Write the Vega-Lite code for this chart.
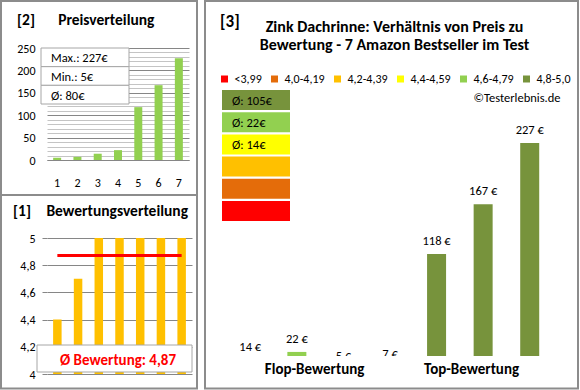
{
  "$schema": "https://vega.github.io/schema/vega-lite/v6.json",
  "padding": {"left": 0, "top": 0, "right": 0, "bottom": 0},
  "background": "white",
  "config": {
    "font": "Carlito, Lato, sans-serif",
    "view": {"stroke": null},
    "axis": {"labelColor": "#000000", "labelFontSize": 12, "titleColor": "#000000", "labelOverlap": false},
    "title": {"color": "#000000", "fontWeight": "bold"}
  },
  "columns": 2,
  "align": "none",
  "spacing": 6,
  "resolve": {"scale": {"color": "independent"}, "legend": {"color": "independent"}},
  "concat": [
    {
      "spacing": -2,
      "vconcat": [
        {
          "width": 142,
          "height": 112,
          "title": {"text": "[2]\u2003\u2002Preisverteilung", "anchor": "start", "frame": "bounds", "fontSize": 15.5, "offset": -28, "dx": 17},
          "layer": [
            {
              "data": {"values": [{"panel": "Preisverteilung"}]},
              "mark": {"type": "rect", "fillOpacity": 0, "stroke": "#8c8c8c", "strokeWidth": 2},
              "encoding": {
                "x": {"datum": "frame", "type": "nominal", "scale": {"range": [-46, 150], "paddingInner": 0, "paddingOuter": 0}, "axis": null},
                "y": {"datum": "frame", "type": "nominal", "scale": {"range": [-47, 147], "paddingInner": 0, "paddingOuter": 0}, "axis": null}
              }
            },
            {
              "data": {"values": [
                {"rank": 1, "price": 5}, {"rank": 2, "price": 7}, {"rank": 3, "price": 14},
                {"rank": 4, "price": 22}, {"rank": 5, "price": 118}, {"rank": 6, "price": 167},
                {"rank": 7, "price": 227}
              ]},
              "mark": {"type": "bar", "color": "#92D050", "width": 8},
              "encoding": {
                "x": {"field": "rank", "type": "ordinal", "axis": {"title": null, "labelAngle": 0, "labelPadding": 17, "ticks": false, "domainColor": "#868686", "grid": false}},
                "y": {"field": "price", "type": "quantitative", "scale": {"domain": [0, 250]},
                  "axis": {"title": null, "values": [0,10,20,30,40,50,60,70,80,90,100,110,120,130,140,150,160,170,180,190,200,210,220,230,240,250],
                    "labelExpr": "datum.value % 50 === 0 ? datum.label : ''", "ticks": false, "domain": false, "labelPadding": 12,
                    "grid": true, "gridColor": {"condition": {"test": "datum.value % 50 === 0", "value": "#868686"}, "value": "#c4c4c4"}}}
              }
            },
            {
              "data": {"values": [{"label": "Max.: 227€"}, {"label": "Min.: 5€"}, {"label": "Ø: 80€"}]},
              "encoding": {
                "x": {"datum": "box", "type": "nominal", "scale": {"range": [-6, 82], "paddingInner": 0, "paddingOuter": 0}, "axis": null},
                "y": {"field": "label", "type": "nominal", "sort": null, "scale": {"domain": ["Max.: 227€", "Min.: 5€", "Ø: 80€"], "range": [0, 56], "paddingInner": 0, "paddingOuter": 0}, "axis": null}
              },
              "layer": [
                {"mark": {"type": "rect", "fill": "white", "stroke": "#a6a6a6", "strokeWidth": 1}},
                {"mark": {"type": "text", "align": "left", "dx": -34, "dy": 1, "fontSize": 12.5, "color": "#000000"}, "encoding": {"text": {"field": "label"}}}
              ]
            }
          ],
          "resolve": {"scale": {"x": "independent", "y": "independent"}}
        },
        {
          "width": 145,
          "height": 136,
          "title": {"text": "[1]\u2003Bewertungsverteilung", "anchor": "start", "frame": "bounds", "fontSize": 15.5, "offset": -25, "dx": 13},
          "layer": [
            {
              "data": {"values": [{"panel": "Bewertungsverteilung"}]},
              "mark": {"type": "rect", "fillOpacity": 0, "stroke": "#8c8c8c", "strokeWidth": 2},
              "encoding": {
                "x": {"datum": "frame", "type": "nominal", "scale": {"range": [-46, 150], "paddingInner": 0, "paddingOuter": 0}, "axis": null},
                "y": {"datum": "frame", "type": "nominal", "scale": {"range": [-43, 150.5], "paddingInner": 0, "paddingOuter": 0}, "axis": null}
              }
            },
            {
              "data": {"values": [
                {"rank": 1, "rating": 4.4}, {"rank": 2, "rating": 4.7}, {"rank": 3, "rating": 5.0},
                {"rank": 4, "rating": 5.0}, {"rank": 5, "rating": 5.0}, {"rank": 6, "rating": 5.0},
                {"rank": 7, "rating": 5.0}
              ]},
              "transform": [{"joinaggregate": [{"op": "mean", "field": "rating", "as": "avg"}]}],
              "encoding": {
                "x": {"field": "rank", "type": "ordinal", "scale": {"paddingInner": 0.59, "paddingOuter": 0.295}, "axis": null}
              },
              "layer": [
                {
                  "mark": {"type": "bar", "color": "#FFC000", "clip": true},
                  "encoding": {
                    "y": {"field": "rating", "type": "quantitative", "scale": {"domain": [4, 5], "zero": false},
                      "axis": {"title": null, "values": [4, 4.2, 4.4, 4.6, 4.8, 5],
                        "labelExpr": "replace(format(datum.value, '.1~f'), '.', ',')", "labelOverlap": false, "labelBound": false,
                        "ticks": true, "tickSize": 5, "tickColor": "#868686", "domain": false, "labelPadding": 7,
                        "grid": true, "gridColor": "#868686"}}
                  }
                },
                {
                  "mark": {"type": "line", "color": "#FF0000", "strokeWidth": 3},
                  "encoding": {"y": {"field": "avg", "type": "quantitative", "scale": {"domain": [4, 5], "zero": false},
                      "axis": {"title": null, "values": [4, 4.2, 4.4, 4.6, 4.8, 5],
                        "labelExpr": "replace(format(datum.value, '.1~f'), '.', ',')", "labelOverlap": false, "labelBound": false,
                        "ticks": true, "tickSize": 5, "tickColor": "#868686", "domain": false, "labelPadding": 7,
                        "grid": true, "gridColor": "#868686"}}}
                }
              ]
            },
            {
              "data": {"values": [{"label": "Ø Bewertung: 4,87"}]},
              "encoding": {
                "x": {"datum": "box", "type": "nominal", "scale": {"range": [-10, 145], "paddingInner": 0, "paddingOuter": 0}, "axis": null},
                "y": {"field": "label", "type": "nominal", "scale": {"range": [107, 134], "paddingInner": 0, "paddingOuter": 0}, "axis": null}
              },
              "layer": [
                {"mark": {"type": "rect", "fill": "white", "stroke": "#a6a6a6", "strokeWidth": 1}},
                {"mark": {"type": "text", "align": "center", "dx": 3.5, "dy": 1.5, "fontSize": 15, "fontWeight": "bold", "color": "#FF0000"}, "encoding": {"text": {"field": "label"}}}
              ]
            }
          ],
          "resolve": {"scale": {"x": "independent", "y": "independent"}}
        }
      ]
    },
    {
      "width": 336,
      "height": 308,
      "title": {"text": "[3]", "anchor": "start", "frame": "group", "fontSize": 17, "offset": -31, "dx": -2},
      "layer": [
        {
          "data": {"values": [{"panel": "Verhältnis von Preis zu Bewertung"}]},
          "mark": {"type": "rect", "fillOpacity": 0, "stroke": "#8c8c8c", "strokeWidth": 2},
          "encoding": {
            "x": {"datum": "frame", "type": "nominal", "scale": {"range": [-17, 356], "paddingInner": 0, "paddingOuter": 0}, "axis": null},
            "y": {"datum": "frame", "type": "nominal", "scale": {"range": [-47, 340.5], "paddingInner": 0, "paddingOuter": 0}, "axis": null}
          }
        },
        {
          "data": {"values": [
            {"slot": 1, "group": "Flop", "price": 14, "label": "14 €", "cat": "4,4-4,59"},
            {"slot": 2, "group": "Flop", "price": 22, "label": "22 €", "cat": "4,6-4,79"},
            {"slot": 3, "group": "Flop", "price": 5, "label": "5 €", "cat": "4,8-5,0"},
            {"slot": 4, "group": "Flop", "price": 7, "label": "7 €", "cat": "4,8-5,0"},
            {"slot": 5, "group": "Top", "price": 118, "label": "118 €", "cat": "4,8-5,0"},
            {"slot": 6, "group": "Top", "price": 167, "label": "167 €", "cat": "4,8-5,0"},
            {"slot": 7, "group": "Top", "price": 227, "label": "227 €", "cat": "4,8-5,0"}
          ]},
          "encoding": {
            "x": {"field": "slot", "type": "quantitative", "scale": {"domain": [0.5, 7.5], "nice": false, "zero": false},
              "axis": {"title": null, "values": [2.37, 5.74], "labelExpr": "datum.value < 4 ? 'Flop-Bewertung' : 'Top-Bewertung'",
                "labelFontSize": 15, "labelFontWeight": "bold", "labelPadding": 5, "ticks": false, "domain": false, "grid": false}},
            "y": {"field": "price", "type": "quantitative", "scale": {"domain": [18, 320.3], "zero": false, "nice": false}, "axis": null}
          },
          "layer": [
            {
              "mark": {"type": "bar", "size": 19, "clip": true},
              "encoding": {
                "color": {"field": "cat", "type": "nominal",
                  "scale": {"domain": ["<3,99", "4,0-4,19", "4,2-4,39", "4,4-4,59", "4,6-4,79", "4,8-5,0"],
                    "range": ["#FF0000", "#E46C0A", "#FFC000", "#FFFF00", "#92D050", "#77933C"]},
                  "legend": {
                    "orient": "none", "legendX": -3.5, "legendY": -29, "direction": "horizontal", "gridAlign": "none",
                    "title": ["Zink Dachrinne: Verhältnis von Preis zu", "Bewertung - 7 Amazon Bestseller im Test"],
                    "titleFontSize": 16, "titleFontWeight": "bold", "titleColor": "#000000", "titleAnchor": "middle",
                    "titleLineHeight": 18, "titlePadding": 20, "titleLimit": 500,
                    "symbolType": "square", "symbolSize": 49, "symbolStrokeWidth": 0, "symbolOpacity": 1,
                    "labelFontSize": 12, "labelColor": "#000000", "labelOffset": 4, "columnPadding": 6, "padding": 0
                  }}
              }
            },
            {
              "mark": {"type": "text", "clip": true, "dy": -13, "fontSize": 12.5, "color": "#000000"},
              "encoding": {"text": {"field": "label"}}
            }
          ]
        },
        {
          "data": {"values": [{"note": "©Testerlebnis.de"}]},
          "mark": {"type": "text", "align": "right", "fontSize": 12.5, "color": "#000000", "dx": 2.5},
          "encoding": {
            "x": {"datum": 7.5, "type": "quantitative", "scale": {"domain": [0.5, 7.5], "nice": false, "zero": false}, "axis": null},
            "y": {"datum": 271.5, "type": "quantitative", "scale": {"domain": [18, 320.3], "zero": false, "nice": false}, "axis": null},
            "text": {"field": "note"}
          }
        },
        {
          "data": {"values": [
            {"cat": "4,8-5,0", "label": "Ø: 105€"},
            {"cat": "4,6-4,79", "label": "Ø: 22€"},
            {"cat": "4,4-4,59", "label": "Ø: 14€"},
            {"cat": "4,2-4,39", "label": ""},
            {"cat": "4,0-4,19", "label": ""},
            {"cat": "<3,99", "label": ""}
          ]},
          "encoding": {
            "x": {"datum": "box", "type": "nominal", "scale": {"range": [0, 68], "paddingInner": 0, "paddingOuter": 0}, "axis": null},
            "y": {"field": "cat", "type": "nominal", "scale": {"domain": ["4,8-5,0", "4,6-4,79", "4,4-4,59", "4,2-4,39", "4,0-4,19", "<3,99"], "range": [42, 173], "paddingInner": 0.1, "paddingOuter": 0}, "axis": null}
          },
          "layer": [
            {"mark": {"type": "rect"}, "encoding": {"color": {"field": "cat", "type": "nominal"}}},
            {"mark": {"type": "text", "align": "left", "dx": -24, "dy": 1, "fontSize": 12.5, "color": "#000000"}, "encoding": {"text": {"field": "label"}}}
          ]
        }
      ],
      "resolve": {"scale": {"x": "independent", "y": "independent"}}
    }
  ]
}
